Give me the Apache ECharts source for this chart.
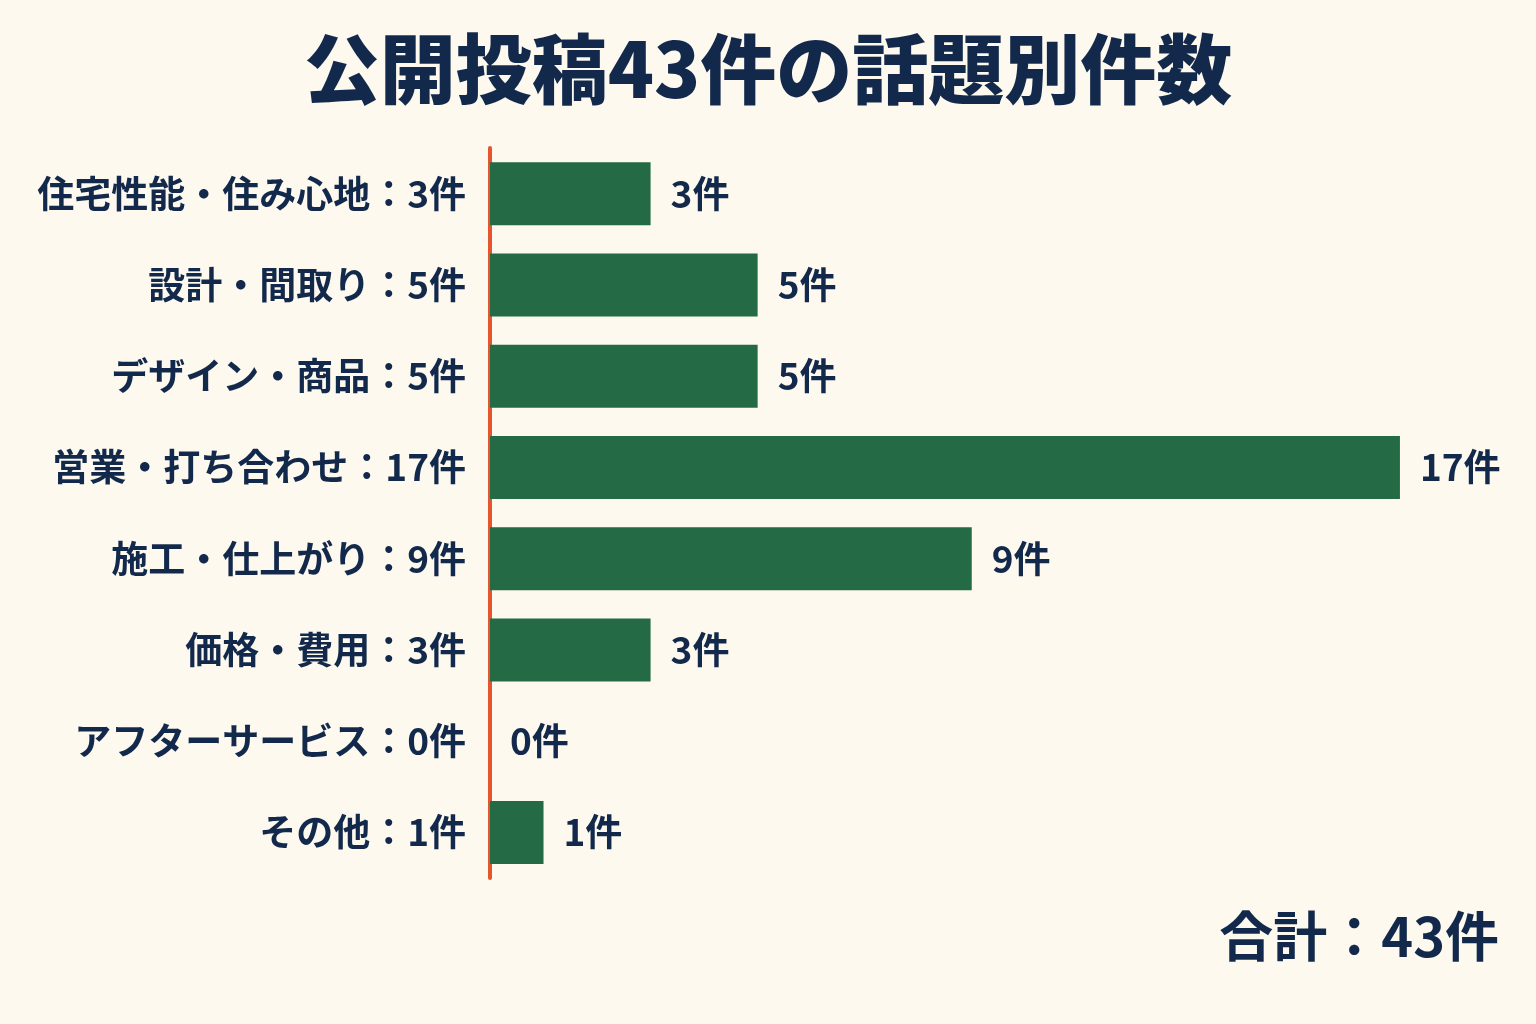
<!DOCTYPE html>
<html>
<head>
<meta charset="utf-8">
<script src="https://cdn.jsdelivr.net/npm/echarts@6/dist/echarts.min.js"></script>
<style>
html,body{margin:0;padding:0;background:#fdf9ef;}
#chart{width:1536px;height:1024px;}
</style>
</head>
<body>
<div id="chart"></div>
<script>
var categories = ["住宅性能・住み心地", "設計・間取り", "デザイン・商品", "営業・打ち合わせ", "施工・仕上がり", "価格・費用", "アフターサービス", "その他"];
var counts = [3, 5, 5, 17, 9, 3, 0, 1];
var totalCount = 43;

var navy = "#13294b";
var font = "'Noto Sans CJK JP', 'Noto Sans', sans-serif";

var chart = echarts.init(document.getElementById("chart"));
chart.setOption({
	backgroundColor: "#fdf9ef",
	title: [
		{
			text: "公開投稿" + totalCount + "件の話題別件数",
			left: "center",
			top: 26,
			textStyle: {color: navy, fontSize: 76, fontWeight: 900, fontFamily: font}
		},
		{
			text: "合計：" + totalCount + "件",
			right: 32,
			top: 904,
			textStyle: {color: navy, fontSize: 54, fontWeight: "bold", fontFamily: font}
		}
	],
	grid: {left: 490, right: 29, top: 148, bottom: 146},
	xAxis: {
		type: "value",
		min: 0,
		max: 19,
		show: false,
		splitLine: {show: false}
	},
	yAxis: {
		type: "category",
		inverse: true,
		data: categories,
		axisTick: {show: false},
		axisLine: {show: true, lineStyle: {color: "#e4572e", width: 4}},
		axisLabel: {
			margin: 24,
			color: navy,
			fontSize: 37,
			fontWeight: "bold",
			fontFamily: font,
			formatter: function(v, i){ return v + "：" + counts[i] + "件"; }
		}
	},
	series: [{
		type: "bar",
		data: counts,
		barWidth: 63,
		itemStyle: {color: "#236a45"},
		label: {
			show: true,
			position: "right",
			distance: 20,
			color: navy,
			fontSize: 37,
			fontWeight: "bold",
			fontFamily: font,
			formatter: "{c}件"
		},
		silent: true
	}]
});
</script>
</body>
</html>
